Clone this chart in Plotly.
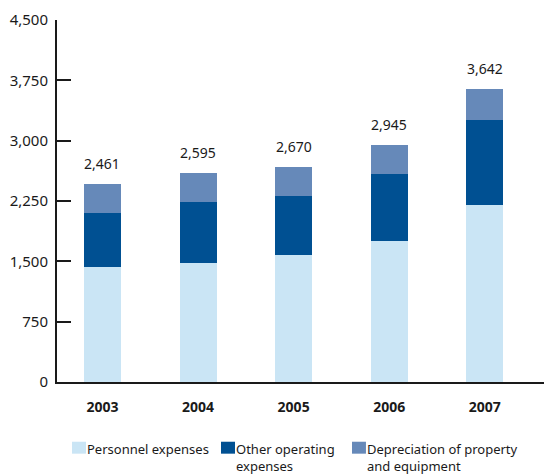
import plotly.graph_objects as go

years = ["2003", "2004", "2005", "2006", "2007"]
personnel = [1430, 1480, 1580, 1754, 2201]
other_operating = [672, 759, 733, 833, 1058]
depreciation = [359, 356, 357, 358, 383]
y_ticks = [0, 750, 1500, 2250, 3000, 3750, 4500]

FONT = "Noto Sans"
INK = "#1a1a1a"
COLORS = {
    "personnel": "#cae5f5",
    "other": "#005092",
    "depr": "#6689b9",
}

totals = [p + o + d for p, o, d in zip(personnel, other_operating, depreciation)]

fig = go.Figure()
series = [
    ("Personnel expenses", personnel, COLORS["personnel"]),
    ("Other operating<br>expenses", other_operating, COLORS["other"]),
    ("Depreciation of property<br>and equipment", depreciation, COLORS["depr"]),
]
for name, vals, color in series:
    fig.add_trace(
        go.Bar(
            x=years,
            y=vals,
            name=name,
            marker=dict(color=color, line=dict(width=0)),
            width=0.387,
            showlegend=False,
        )
    )

# total labels above each stack (category axis -> use the index)
for i, tot in enumerate(totals):
    fig.add_annotation(
        x=i, y=tot, text=f"{tot:,}", showarrow=False,
        yanchor="bottom", yshift=9,
        font=dict(family=FONT, size=14, color=INK),
    )

# hand-made legend below the plot: small swatch + text hugging it
legend_x = [0.0308, 0.3368, 0.6057]
for (name, _, color), lx in zip(series, legend_x):
    fig.add_shape(
        type="rect", xref="paper", yref="paper",
        x0=lx, x1=lx + 0.0287, y0=-0.198, y1=-0.165,
        fillcolor=color, line=dict(width=0),
    )
    fig.add_annotation(
        xref="paper", yref="paper", x=lx + 0.027, y=-0.154,
        xanchor="left", yanchor="top", align="left",
        text=name, showarrow=False,
        font=dict(family=FONT, size=13, color=INK),
    )

fig.update_layout(
    width=544,
    height=475,
    barmode="stack",
    showlegend=False,
    plot_bgcolor="white",
    paper_bgcolor="white",
    margin=dict(l=57, r=0, t=20, b=93),
    font=dict(family=FONT, size=14, color=INK),
    xaxis=dict(
        type="category",
        range=[-0.476, 4.62],
        showline=True, linecolor=INK, linewidth=2,
        ticks="", ticklabelstandoff=11,
        tickfont=dict(family=FONT, size=14, weight="bold"),
        automargin=False,
    ),
    yaxis=dict(
        range=[0, 4500],
        tickvals=y_ticks,
        ticktext=[f"{v:,}" for v in y_ticks],
        showgrid=False, zeroline=False,
        showline=True, linecolor=INK, linewidth=2,
        ticks="inside", ticklen=14, tickwidth=1.5, tickcolor=INK,
        ticklabelstandoff=4,
        tickfont=dict(family=FONT, size=15),
        automargin=False,
    ),
)

# page body has a default 8px margin; drop it so the figure fills the window
fig.write_html(
    "out.html",
    config={"displayModeBar": False},
    post_script="document.body.style.margin='0';",
)
